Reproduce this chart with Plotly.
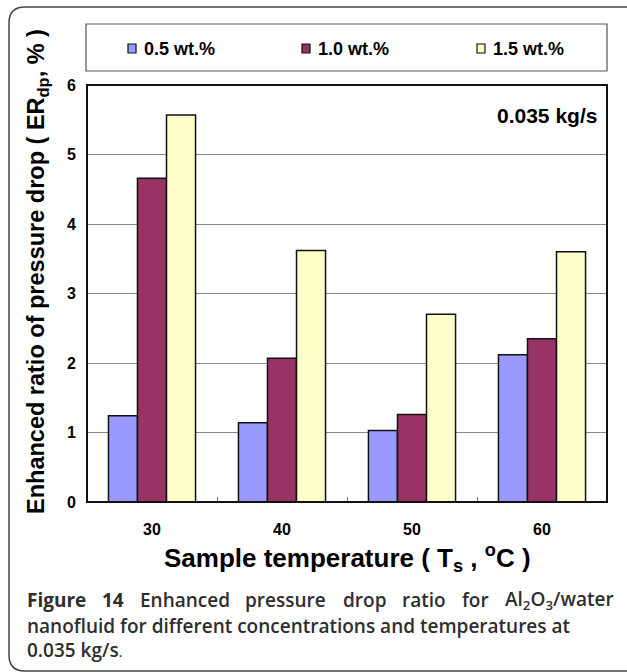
import plotly.graph_objects as go

# Data
temperatures = ["30", "40", "50", "60"]
series_names = ["0.5 wt.%", "1.0 wt.%", "1.5 wt.%"]
er_05 = [1.24, 1.14, 1.03, 2.12]
er_10 = [4.66, 2.07, 1.26, 2.35]
er_15 = [5.57, 3.62, 2.70, 3.60]
series_values = [er_05, er_10, er_15]
series_colors = ["#9999FF", "#993366", "#FFFFCC"]
y_ticks = [0, 1, 2, 3, 4, 5, 6]

W, H = 627, 672
L, R, T, B = 87, 20, 85, 170
PW, PH = W - L - R, H - T - B

ARIAL = "Liberation Sans, Arial, sans-serif"
CAPTION = "Open Sans, sans-serif"


def px(x):
    return (x - L) / PW


def py(y):
    return (H - B - y) / PH


fig = go.Figure()
for name, vals, col in zip(series_names, series_values, series_colors):
    fig.add_trace(go.Bar(
        x=temperatures, y=vals, name=name,
        marker=dict(color=col, line=dict(color="#111111", width=1.5)),
        showlegend=False,
    ))

shapes = []
annotations = []

# outer rounded frame
r = 16
x0, y0, x1, y1 = 9, 7, 640, 671
shapes.append(dict(
    type="path", xref="paper", yref="paper", layer="below",
    path=(f"M {px(x1)},{py(y0)} L {px(x0 + r)},{py(y0)} "
          f"Q {px(x0)},{py(y0)} {px(x0)},{py(y0 + r)} "
          f"L {px(x0)},{py(y1 - r)} Q {px(x0)},{py(y1)} {px(x0 + r)},{py(y1)} "
          f"L {px(x1)},{py(y1)}"),
    line=dict(color="#444444", width=1.5),
))

# legend box
shapes.append(dict(type="rect", xref="paper", yref="paper",
                   x0=px(86), x1=px(607), y0=py(71), y1=py(24),
                   line=dict(color="#555555", width=1.2)))
leg_sq = [128, 302, 477]
for xs, name, col in zip(leg_sq, series_names, series_colors):
    shapes.append(dict(type="rect", xref="paper", yref="paper",
                       x0=px(xs), x1=px(xs + 8), y0=py(53), y1=py(44),
                       fillcolor=col, line=dict(color="#111111", width=1.2)))
    annotations.append(dict(x=px(xs + 14), y=py(48.5), xref="paper", yref="paper",
                            text=name, showarrow=False, xanchor="left", yanchor="middle",
                            font=dict(family=ARIAL, size=18, color="#000000", weight="bold")))

# plot frame
shapes.append(dict(type="rect", xref="paper", yref="paper", x0=0, x1=1, y0=0, y1=1,
                   line=dict(color="#111111", width=2)))

annotations.append(dict(x=px(599), y=py(115), xref="paper", yref="paper",
                        text="0.035 kg/s", showarrow=False, xanchor="right", yanchor="middle",
                        font=dict(family=ARIAL, size=21, color="#000000", weight="bold")))

annotations.append(dict(x=px(37), y=py(272), xref="paper", yref="paper",
                        text="Enhanced ratio of pressure drop ( ER<sub>dp</sub>, % )",
                        textangle=-90, showarrow=False, xanchor="center", yanchor="middle",
                        font=dict(family=ARIAL, size=23.5, color="#000000", weight="bold")))

annotations.append(dict(x=px(347), y=py(558), xref="paper", yref="paper",
                        text="Sample temperature ( T<sub>s</sub> , <sup>o</sup>C )",
                        showarrow=False, xanchor="center", yanchor="middle",
                        font=dict(family=ARIAL, size=26, color="#000000", weight="bold")))

# caption, first line justified word by word (left edges)
cap_font = dict(family=CAPTION, size=19, color="#2e2e2e", weight=600)
line1_words = ["<b>Figure</b>", "<b>14</b>", "Enhanced", "pressure", "drop", "ratio", "for"]
line1_x = [25, 100, 138, 243, 341, 400, 460]
for wx, word in zip(line1_x, line1_words):
    annotations.append(dict(x=px(wx), y=py(600), xref="paper", yref="paper", text=word,
                            showarrow=False, xanchor="left", yanchor="middle", font=cap_font))
annotations.append(dict(x=px(616), y=py(600), xref="paper", yref="paper",
                        text="Al<sub>2</sub>O<sub>3</sub>/water",
                        showarrow=False, xanchor="right", yanchor="middle", font=cap_font))
annotations.append(dict(x=px(25), y=py(626), xref="paper", yref="paper",
                        text="nanofluid for different concentrations and temperatures at",
                        showarrow=False, xanchor="left", yanchor="middle", font=cap_font))
annotations.append(dict(x=px(25), y=py(650), xref="paper", yref="paper",
                        text="0.035 kg/s<span style='font-size:13px'>.</span>",
                        showarrow=False, xanchor="left", yanchor="middle", font=cap_font))

fig.update_layout(
    width=W, height=H,
    margin=dict(l=L, r=R, t=T, b=B, autoexpand=False),
    paper_bgcolor="#FFFFFF", plot_bgcolor="#FFFFFF",
    barmode="group", bargap=0.33, bargroupgap=0,
    shapes=shapes, annotations=annotations,
    xaxis=dict(
        type="category", showgrid=False, showline=False, zeroline=False,
        ticks="inside", tickson="boundaries", ticklen=5, tickwidth=1, tickcolor="#777777",
        ticklabelstandoff=16,
        tickfont=dict(family=ARIAL, size=16, color="#000000", weight="bold"),
    ),
    yaxis=dict(
        range=[0, 6], tickvals=y_ticks, showgrid=True, gridcolor="#888888", gridwidth=1,
        showline=False, zeroline=False, ticks="", ticklabelstandoff=10,
        tickfont=dict(family=ARIAL, size=16, color="#000000", weight="bold"),
    ),
)

fig.write_html("out.html")
